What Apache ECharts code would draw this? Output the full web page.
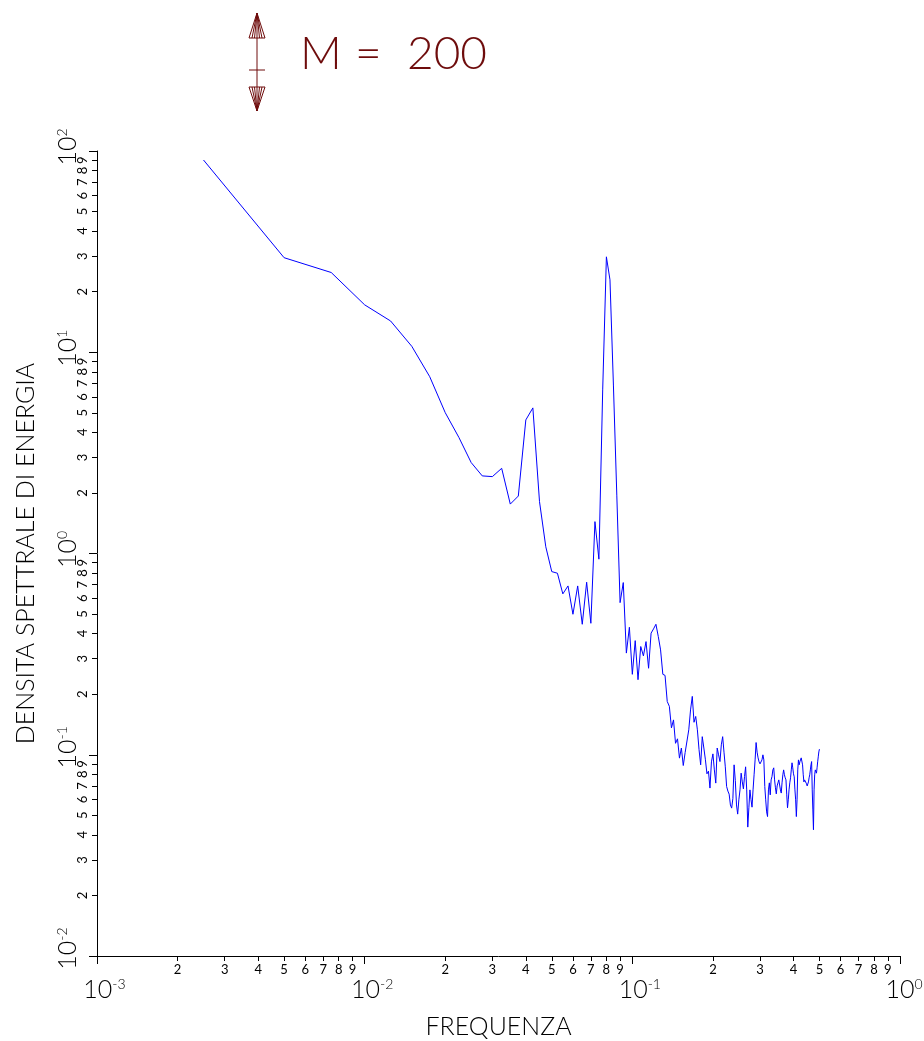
<!DOCTYPE html>
<html>
<head>
<meta charset="utf-8">
<script src="https://cdn.jsdelivr.net/npm/echarts@6/dist/echarts.min.js"></script>
<style>
  html, body { margin: 0; padding: 0; background: #ffffff; }
  #chart { width: 924px; height: 1041px; }
</style>
</head>
<body>
<div id="chart"></div>
<script>
// Spectral estimate, M = 200 lags: frequency bins and energy density values
const frequencies = [
  0.0025,0.005,0.0075,0.01,0.0125,0.015,0.0175,0.02,0.0225,0.025,0.0275,0.03,0.0325,0.035,0.0375,0.04,0.0425,0.045,0.0475,0.05,
  0.0525,0.055,0.0575,0.06,0.0625,0.065,0.0675,0.07,0.0725,0.075,0.0775,0.08,0.0825,0.085,0.0875,0.09,0.0925,0.095,0.0975,0.1,
  0.1025,0.105,0.1075,0.11,0.1125,0.115,0.1175,0.12,0.1225,0.125,0.1275,0.13,0.1325,0.135,0.1375,0.14,0.1425,0.145,0.1475,0.15,
  0.1525,0.155,0.1575,0.16,0.1625,0.165,0.1675,0.17,0.1725,0.175,0.1775,0.18,0.1825,0.185,0.1875,0.19,0.1925,0.195,0.1975,0.2,
  0.2025,0.205,0.2075,0.21,0.2125,0.215,0.2175,0.22,0.2225,0.225,0.2275,0.23,0.2325,0.235,0.2375,0.24,0.2425,0.245,0.2475,0.25,
  0.2525,0.255,0.2575,0.26,0.2625,0.265,0.2675,0.27,0.2725,0.275,0.2775,0.28,0.2825,0.285,0.2875,0.29,0.2925,0.295,0.2975,0.3,
  0.3025,0.305,0.3075,0.31,0.3125,0.315,0.3175,0.32,0.3225,0.325,0.3275,0.33,0.3325,0.335,0.3375,0.34,0.3425,0.345,0.3475,0.35,
  0.3525,0.355,0.3575,0.36,0.3625,0.365,0.3675,0.37,0.3725,0.375,0.3775,0.38,0.3825,0.385,0.3875,0.39,0.3925,0.395,0.3975,0.4,
  0.4025,0.405,0.4075,0.41,0.4125,0.415,0.4175,0.42,0.4225,0.425,0.4275,0.43,0.4325,0.435,0.4375,0.44,0.4425,0.445,0.4475,0.45,
  0.4525,0.455,0.4575,0.46,0.4625,0.465,0.4675,0.47,0.4725,0.475,0.4775,0.48,0.4825,0.485,0.4875,0.49,0.4925,0.495,0.4975,0.5
];
const energyDensity = [
  90.2,29.5,24.9,17.2,14.3,10.7,7.56,5.01,3.77,2.83,2.43,2.41,2.65,1.76,1.93,4.61,5.29,1.81,1.08,0.813,
  0.798,0.630,0.690,0.499,0.690,0.445,0.720,0.450,1.44,0.937,6.5,29.8,22.9,6.8,1.95,0.570,0.717,0.320,0.430,0.251,
  0.369,0.236,0.345,0.310,0.365,0.269,0.402,0.422,0.445,0.387,0.332,0.251,0.248,0.184,0.174,0.136,0.149,0.114,0.120,0.0962,
  0.108,0.0884,0.1025,0.1007,0.133,0.167,0.195,0.145,0.155,0.133,0.106,0.0891,0.123,0.108,0.0944,0.0804,0.0829,0.0683,0.0922,0.101,
  0.0841,0.0723,0.108,0.0999,0.0925,0.112,0.123,0.103,0.0871,0.0696,0.066,0.0637,0.0563,0.0543,0.0606,0.0891,0.0745,0.0563,0.0507,0.0597,
  0.0669,0.0810,0.0733,0.0677,0.0779,0.0871,0.0669,0.0437,0.0545,0.0669,0.0600,0.0549,0.0669,0.0795,0.0943,0.115,0.103,0.0965,0.0922,0.0901,
  0.0891,0.0943,0.0999,0.0943,0.0695,0.0597,0.0520,0.0493,0.0669,0.0725,0.0632,0.0750,0.0779,0.0841,0.0861,0.0750,0.0685,0.0639,0.0700,0.0725,
  0.0750,0.0742,0.0669,0.0645,0.0725,0.0795,0.0841,0.0795,0.0768,0.0750,0.0632,0.0545,0.0597,0.0669,0.0725,0.0768,0.0841,0.0912,0.0861,0.0804,
  0.0777,0.0669,0.0597,0.0493,0.0597,0.0841,0.0943,0.0891,0.0922,0.0922,0.0965,0.0976,0.0891,0.0795,0.0733,0.0750,0.0742,0.0750,0.0717,0.0700,
  0.0695,0.0733,0.0768,0.0795,0.0841,0.0891,0.0925,0.0669,0.0532,0.0424,0.0669,0.0795,0.0841,0.0822,0.0810,0.0861,0.0922,0.0976,0.1033,0.1066
];

// Axis decades and the in-between digits labelled on each log axis
const xDecades = [0.001, 0.01, 0.1, 1];
const yDecades = [0.01, 0.1, 1, 10, 100];
const minorDigits = [2, 3, 4, 5, 6, 7, 8, 9];

const titleParts = ['M ', '= ', '200'];
const xName = 'FREQUENZA';
const yName = 'DENSITA SPETTRALE DI ENERGIA';

const FONT = 'Lato, "Liberation Sans", sans-serif';
const WEIGHT = 300;
const DARK_RED = '#6e0c0c';

function minorTickValues(decades) {
  const out = [];
  decades.slice(0, -1).forEach(function (d) {
    minorDigits.forEach(function (m) { out.push(Number((d * m).toPrecision(4))); });
  });
  return out;
}

function decadeLabel(v) {
  const e = String(Math.round(Math.log10(v)));
  return '{pad' + e.length + '| }{base|10}{sup|' + e + '}';
}

function digitLabel(v) {
  const e = Math.floor(Math.log10(v) + 1e-9);
  return String(Math.round(v / Math.pow(10, e)));
}

const decadeRich = {
  pad1: { width: 8, fontSize: 14, fontFamily: FONT },
  pad2: { width: 15, fontSize: 14, fontFamily: FONT },
  base: { fontSize: 25, fontFamily: FONT, fontWeight: WEIGHT, color: '#000', verticalAlign: 'bottom', lineHeight: 25 },
  sup: { fontSize: 14, fontFamily: FONT, fontWeight: WEIGHT, color: '#000', verticalAlign: 'top', lineHeight: 14 }
};

function logAxis(min, max, extra) {
  return Object.assign({
    type: 'log',
    logBase: 10,
    min: min,
    max: max,
    gridIndex: 0,
    splitLine: { show: false },
    minorTick: { show: false },
    minorSplitLine: { show: false }
  }, extra);
}

const xMinor = minorTickValues(xDecades);
const yMinor = minorTickValues(yDecades);

const nameStyle = { fontFamily: FONT, fontWeight: WEIGHT, fontSize: 25, color: '#000' };
const digitStyle = { fontFamily: FONT, fontWeight: 400, fontSize: 13, color: '#000' };

const chart = echarts.init(document.getElementById('chart'), null, { renderer: 'canvas' });

chart.setOption({
  animation: false,
  backgroundColor: '#ffffff',
  grid: { left: 97, right: 24, top: 151, bottom: 85, containLabel: false, outerBoundsMode: 'none' },
  xAxis: [
    logAxis(0.001, 1, {
      position: 'bottom',
      axisLine: { show: true, onZero: false, lineStyle: { color: '#000', width: 1 } },
      axisTick: { show: true, inside: false, length: 8, customValues: xDecades, lineStyle: { color: '#000', width: 1 } },
      axisLabel: { show: true, customValues: xDecades, margin: 21, interval: 0, formatter: decadeLabel, rich: decadeRich, color: '#000' },
      name: xName,
      nameLocation: 'middle',
      nameGap: 58,
      nameTextStyle: nameStyle
    }),
    logAxis(0.001, 1, {
      position: 'bottom',
      axisLine: { show: false, onZero: false },
      axisTick: { show: true, inside: false, length: 5, customValues: xMinor, lineStyle: { color: '#000', width: 1 } },
      axisLabel: Object.assign({ show: true, customValues: xMinor, margin: 7, interval: 0, formatter: digitLabel }, digitStyle)
    })
  ],
  yAxis: [
    logAxis(0.01, 100, {
      position: 'left',
      axisLine: { show: true, onZero: false, lineStyle: { color: '#000', width: 1 } },
      axisTick: { show: true, inside: false, length: 8, customValues: yDecades, lineStyle: { color: '#000', width: 1 } },
      axisLabel: { show: true, customValues: yDecades, margin: 17, interval: 0, rotate: 90, formatter: decadeLabel, rich: decadeRich, color: '#000' },
      name: yName,
      nameLocation: 'middle',
      nameRotate: 90,
      nameGap: 59,
      nameTextStyle: nameStyle
    }),
    logAxis(0.01, 100, {
      position: 'left',
      axisLine: { show: false, onZero: false },
      axisTick: { show: true, inside: false, length: 5, customValues: yMinor, lineStyle: { color: '#000', width: 1 } },
      axisLabel: Object.assign({ show: true, customValues: yMinor, margin: 8, interval: 0, rotate: 90, formatter: digitLabel }, digitStyle)
    })
  ],
  series: [{
    type: 'line',
    xAxisIndex: 0,
    yAxisIndex: 0,
    data: frequencies.map(function (f, i) { return [f, energyDensity[i]]; }),
    showSymbol: false,
    symbol: 'none',
    lineStyle: { color: '#0000ff', width: 1 },
    silent: true
  }],
  graphic: [
    {
      type: 'text',
      x: 300, y: 54,
      style: {
        text: '{m|' + titleParts[0] + '}{eq|' + titleParts[1] + '}{n|' + titleParts[2] + '}',
        verticalAlign: 'middle',
        align: 'left',
        rich: {
          m: { width: 55, fontSize: 46, fontFamily: FONT, fontWeight: WEIGHT, fill: DARK_RED, color: DARK_RED },
          eq: { width: 52, fontSize: 46, fontFamily: FONT, fontWeight: WEIGHT, fill: DARK_RED, color: DARK_RED },
          n: { fontSize: 46, fontFamily: FONT, fontWeight: WEIGHT, fill: DARK_RED, color: DARK_RED }
        }
      }
    },
    // double-headed scale arrow beside the title
    {
      type: 'group',
      children: [
        { type: 'polyline', shape: { points: [[257, 13], [257, 111]] }, style: { stroke: DARK_RED, lineWidth: 1, fill: null } },
        { type: 'polyline', shape: { points: [[249, 70], [265, 70]] }, style: { stroke: DARK_RED, lineWidth: 1, fill: null } },
        { type: 'polyline', shape: { points: [[249, 38], [265, 38]] }, style: { stroke: DARK_RED, lineWidth: 1, fill: null } },
        { type: 'polyline', shape: { points: [[249, 38], [257, 13], [265, 38]] }, style: { stroke: DARK_RED, lineWidth: 1, fill: null } },
        { type: 'polyline', shape: { points: [[252, 38], [257, 13], [262, 38]] }, style: { stroke: DARK_RED, lineWidth: 1, fill: null } },
        { type: 'polyline', shape: { points: [[254.5, 38], [257, 13], [259.5, 38]] }, style: { stroke: DARK_RED, lineWidth: 1, fill: null } },
        { type: 'polyline', shape: { points: [[249, 87], [265, 87]] }, style: { stroke: DARK_RED, lineWidth: 1, fill: null } },
        { type: 'polyline', shape: { points: [[249, 87], [257, 111], [265, 87]] }, style: { stroke: DARK_RED, lineWidth: 1, fill: null } },
        { type: 'polyline', shape: { points: [[252, 87], [257, 111], [262, 87]] }, style: { stroke: DARK_RED, lineWidth: 1, fill: null } },
        { type: 'polyline', shape: { points: [[254.5, 87], [257, 111], [259.5, 87]] }, style: { stroke: DARK_RED, lineWidth: 1, fill: null } }
      ]
    }
  ]
});
</script>
</body>
</html>
